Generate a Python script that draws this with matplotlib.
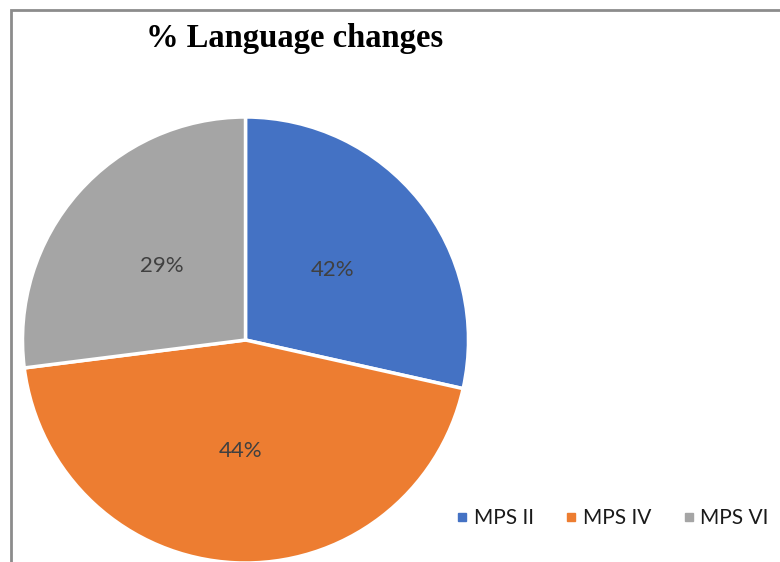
import matplotlib.pyplot as plt
from matplotlib.lines import Line2D
from matplotlib.patches import Rectangle

# data
categories = ["MPS II", "MPS IV", "MPS VI"]
slice_shares = [28.5, 44.5, 27.0]      # slice sizes as drawn
pct_labels = ["42%", "44%", "29%"]     # labels as printed on the chart
colors = ["#4472C4", "#ED7D31", "#A5A5A5"]

W, H = 780, 562
fig = plt.figure(figsize=(W / 100, H / 100), dpi=100)

# pie axes: center (245.5, 340) px, radius 223 px
cx, cy, r = 245.5, 340, 223
ax = fig.add_axes([(cx - r) / W, (H - cy - r) / H, 2 * r / W, 2 * r / H])
ax.pie(slice_shares, labels=pct_labels, colors=colors, startangle=90,
       counterclock=False, labeldistance=0.5,
       wedgeprops=dict(edgecolor="white", linewidth=2.5),
       textprops=dict(color="#404040", fontsize=16, family="Lato"))
for t in ax.texts:
    t.set_ha("center")
    t.set_va("center")
ax.set_xlim(-1, 1)
ax.set_ylim(-1, 1)
ax.set_aspect("equal")
ax.axis("off")

# title
fig.text(295 / W, 1 - 39 / H, "% Language changes", ha="center", va="center",
         fontsize=23.5, fontweight="bold", family="Liberation Serif")

# outer chart frame (cropped at right and bottom)
fig.add_artist(Rectangle((10.5 / W, -0.1), 1.2, 1.1 - 9.5 / H,
                         transform=fig.transFigure, fill=False,
                         edgecolor="#8c8c8c", linewidth=2, clip_on=False))

# legend
handles = [Line2D([], [], marker="s", linestyle="none", markersize=6,
                  markerfacecolor=c, markeredgecolor=c) for c in colors]
fig.legend(handles, categories, loc="center left",
           bbox_to_anchor=(457 / W, 1 - 518 / H), ncol=3, frameon=False,
           borderpad=0, borderaxespad=0,
           handlelength=0.5, handletextpad=0.3, columnspacing=1.55,
           labelcolor="#1a1a1a", prop=dict(family="Lato", size=15))

fig.savefig("out.png", dpi=100)
